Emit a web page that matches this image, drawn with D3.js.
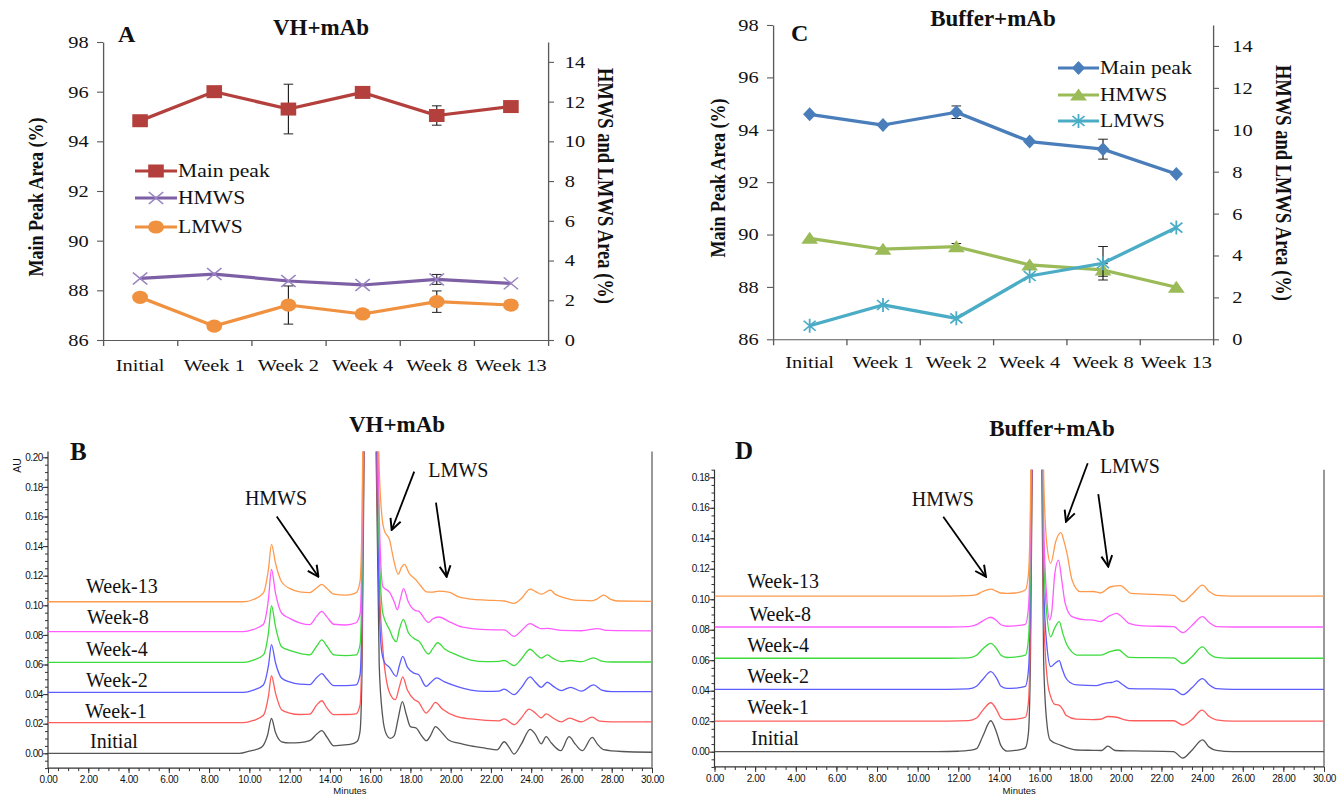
<!DOCTYPE html>
<html>
<head>
<meta charset="utf-8">
<script src="https://cdn.jsdelivr.net/npm/d3@7"></script>
<style>
    body { margin: 0; background: #fff; }
    svg { display: block; font-family: "Liberation Serif", "Times New Roman", serif; }
</style>
</head>
<body>
<div id="chart"></div>
<script>
/* * * * * * * * * * * * * *
 *      stability data      *
 * * * * * * * * * * * * * */

const weeks = ['Initial', 'Week 1', 'Week 2', 'Week 4', 'Week 8', 'Week 13'];

// VH+mAb (panel A)
const vhMain = [94.83, 96.0, 95.3, 95.97, 95.04, 95.4];
const vhMainErr = [0, 0, 1.0, 0, 0.39, 0];
const vhHmws = [3.1, 3.32, 2.97, 2.77, 3.05, 2.85];
const vhHmwsErr = [0, 0, 0, 0, 0.25, 0];
const vhLmws = [2.15, 0.7, 1.76, 1.31, 1.93, 1.76];
const vhLmwsErr = [0, 0, 0.96, 0, 0.54, 0];

// Buffer+mAb (panel C)
const bufMain = [94.59, 94.18, 94.67, 93.55, 93.26, 92.31];
const bufMainErr = [0, 0, 0.24, 0, 0.38, 0];
const bufHmws = [4.82, 4.3, 4.42, 3.55, 3.31, 2.48];
const bufHmwsErr = [0, 0, 0.15, 0, 0.3, 0];
const bufLmws = [0.65, 1.64, 1.0, 3.02, 3.63, 5.33];
const bufLmwsErr = [0, 0, 0, 0, 0.8, 0];

// chromatograms: [minutes, AU above the trace's own baseline]
const traceNames = ['Initial', 'Week-1', 'Week-2', 'Week-4', 'Week-8', 'Week-13'];

const vhInitial = [[0,0],[9.5,0],[10.0,0.0015],[10.6,0.004],[10.9,0.012],[11.1,0.0235],[11.3,0.014],[11.6,0.0078],[12.0,0.007],[12.5,0.0072],[13.0,0.0085],[13.35,0.013],[13.6,0.0153],[13.85,0.011],[14.2,0.005],[14.6,0.0055],[15.0,0.006],[15.35,0.008],[15.5,0.015],[15.6,0.06],[15.7,0.2],[15.8,0.45],[15.95,0.7],[16.15,0.45],[16.3,0.2],[16.45,0.06],[16.62,0.025],[16.8,0.013],[17.0,0.0101],[17.2,0.012],[17.4,0.024],[17.6,0.0349],[17.8,0.026],[18.0,0.018],[18.3,0.0169],[18.5,0.013],[18.8,0.0085],[19.0,0.012],[19.25,0.018],[19.5,0.015],[19.9,0.009],[20.4,0.0068],[21.0,0.005],[21.75,0.0034],[22.3,0.0023],[22.66,0.0078],[22.9,0.004],[23.15,-0.0005],[23.5,0.006],[23.95,0.0162],[24.2,0.013],[24.5,0.0064],[24.74,0.0112],[25.0,0.007],[25.47,0.0018],[25.88,0.0112],[26.2,0.006],[26.54,0.0018],[27.03,0.0108],[27.3,0.006],[27.6,0.0025],[28.5,0.0012],[30,0.0007]];
const vhWeek1 = [[0,0],[9.7,0],[10.2,0.0015],[10.7,0.005],[10.95,0.018],[11.1,0.0317],[11.3,0.02],[11.6,0.0088],[12.0,0.0065],[12.5,0.0055],[13.0,0.0058],[13.35,0.012],[13.6,0.0148],[13.85,0.01],[14.2,0.0054],[14.8,0.0055],[15.3,0.006],[15.5,0.012],[15.6,0.06],[15.7,0.2],[15.8,0.45],[15.95,0.7],[16.15,0.45],[16.3,0.2],[16.47,0.09],[16.63,0.05],[16.97,0.02],[17.25,0.0155],[17.45,0.024],[17.62,0.031],[17.85,0.022],[18.2,0.0155],[18.4,0.014],[18.78,0.0065],[19.0,0.0095],[19.24,0.0137],[19.6,0.009],[20.27,0.0042],[21.0,0.0025],[21.75,0.0015],[22.4,0.0012],[22.66,0.0025],[23.15,-0.0014],[23.5,0.003],[23.9,0.0092],[24.2,0.0065],[24.5,0.0032],[24.74,0.0059],[25.1,0.003],[25.5,0.0005],[25.9,0.003],[26.5,0.0005],[27.03,0.0037],[27.4,0.001],[28,0.0005],[30,0.0005]];
const vhWeek2 = [[0,0],[9.7,0],[10.2,0.0015],[10.7,0.005],[10.95,0.018],[11.1,0.0322],[11.3,0.02],[11.6,0.0097],[12.0,0.007],[12.5,0.0055],[13.0,0.0052],[13.35,0.01],[13.6,0.0126],[13.85,0.009],[14.2,0.0045],[14.8,0.0045],[15.3,0.005],[15.5,0.012],[15.6,0.06],[15.7,0.2],[15.8,0.45],[15.95,0.7],[16.15,0.45],[16.3,0.2],[16.43,0.07],[16.57,0.028],[16.72,0.02],[16.95,0.017],[17.3,0.0108],[17.45,0.018],[17.62,0.0243],[17.85,0.017],[18.2,0.0128],[18.4,0.012],[18.78,0.004],[19.0,0.0065],[19.3,0.0097],[19.7,0.007],[20.3,0.004],[21.0,0.0015],[21.75,0.0006],[22.4,0.0008],[22.66,0.0022],[23.15,-0.0016],[23.5,0.003],[23.95,0.0104],[24.2,0.007],[24.5,0.0034],[24.8,0.0068],[25.1,0.004],[25.5,0.0012],[25.95,0.0034],[26.5,0.0008],[27.1,0.005],[27.5,0.0015],[28,0.0005],[30,0.0005]];
const vhWeek4 = [[0,0],[9.7,0],[10.2,0.0015],[10.7,0.005],[10.95,0.02],[11.1,0.0382],[11.3,0.024],[11.6,0.0105],[12.0,0.008],[12.5,0.006],[13.0,0.005],[13.35,0.011],[13.6,0.0151],[13.85,0.011],[14.2,0.005],[14.8,0.0045],[15.3,0.005],[15.5,0.012],[15.6,0.06],[15.7,0.2],[15.8,0.45],[15.95,0.7],[16.15,0.45],[16.3,0.2],[16.45,0.08],[16.63,0.033],[16.97,0.0218],[17.15,0.016],[17.3,0.0139],[17.45,0.022],[17.65,0.029],[17.9,0.02],[18.25,0.0155],[18.4,0.0145],[18.9,0.0056],[19.1,0.009],[19.36,0.0132],[19.7,0.009],[20.3,0.005],[21.0,0.0015],[21.75,0.0004],[22.4,0.0006],[22.66,0.0012],[23.15,-0.0023],[23.5,0.002],[23.95,0.0088],[24.2,0.006],[24.5,0.0028],[24.8,0.005],[25.1,0.0025],[25.5,0.0004],[25.95,0.0012],[26.5,0.0004],[27.1,0.003],[27.5,0.0008],[28,0.0002],[30,0.0002]];
const vhWeek8 = [[0,0],[9.7,0],[10.2,0.0015],[10.7,0.005],[10.95,0.022],[11.1,0.042],[11.3,0.026],[11.6,0.0126],[12.0,0.009],[12.5,0.006],[13.0,0.0047],[13.35,0.0105],[13.6,0.0137],[13.85,0.01],[14.2,0.005],[14.8,0.0045],[15.3,0.006],[15.5,0.012],[15.6,0.06],[15.7,0.2],[15.8,0.45],[15.95,0.7],[16.15,0.45],[16.3,0.2],[16.45,0.08],[16.63,0.0306],[16.97,0.0265],[17.2,0.02],[17.35,0.0148],[17.5,0.022],[17.66,0.029],[17.9,0.02],[18.25,0.0142],[18.4,0.0138],[18.9,0.0062],[19.1,0.0085],[19.4,0.0099],[20.0,0.0062],[20.6,0.003],[21.75,0.0013],[22.66,0.0012],[23.15,-0.0032],[23.5,0.0005],[23.95,0.0054],[24.3,0.003],[24.5,0.002],[24.8,0.0022],[25.5,0.0008],[26.5,0.0006],[27.3,0.002],[27.8,0.0008],[30,0.0005]];
const vhWeek13 = [[0,0],[9.7,0],[10.2,0.0015],[10.7,0.006],[10.95,0.022],[11.1,0.0387],[11.3,0.026],[11.6,0.0135],[12.0,0.009],[12.5,0.0067],[13.0,0.0062],[13.35,0.0095],[13.6,0.0117],[13.85,0.009],[14.2,0.0051],[14.8,0.0045],[15.3,0.006],[15.5,0.014],[15.6,0.06],[15.7,0.2],[15.8,0.45],[15.95,0.7],[16.15,0.5],[16.3,0.25],[16.43,0.1],[16.57,0.06],[16.7,0.0484],[16.97,0.0416],[17.14,0.0303],[17.4,0.0186],[17.55,0.023],[17.7,0.0252],[17.95,0.019],[18.25,0.0151],[18.5,0.011],[18.8,0.0067],[19.1,0.0065],[19.4,0.0072],[19.9,0.0065],[20.4,0.0033],[21.0,0.0018],[21.75,0.0011],[22.66,0.0005],[23.15,-0.0011],[23.5,0.002],[23.95,0.0085],[24.2,0.007],[24.5,0.0051],[24.95,0.0078],[25.2,0.005],[25.5,0.0033],[26.0,0.0015],[26.5,0.0009],[27.0,0.0006],[27.3,0.002],[27.6,0.0045],[27.9,0.002],[28.3,0.0005],[30,0.0003]];
const vhOffsets = [0, 0.0207, 0.0412, 0.0615, 0.0822, 0.1024];
const vhLabelMin = [2.09, 1.84, 1.89, 1.89, 1.94, 1.89];
const vhLabelAU = [0.0034, 0.0236, 0.045, 0.0657, 0.0874, 0.1085];

const bufInitial = [[0,0],[11.0,0],[12.0,0.0003],[12.5,0.0008],[12.9,0.002],[13.2,0.01],[13.6,0.0203],[13.9,0.012],[14.1,0.004],[14.4,0.0004],[14.8,0.0008],[15.1,0.0015],[15.3,0.0025],[15.45,0.012],[15.55,0.06],[15.65,0.2],[15.75,0.5],[15.87,0.8],[16.0,0.5],[16.1,0.2],[16.2,0.06],[16.35,0.02],[16.52,0.0077],[17.01,0.0044],[17.83,0.0011],[18.65,0.0009],[19.06,0.0008],[19.36,0.0037],[19.72,0.0008],[20.62,0.0005],[22.59,0],[23.05,-0.0042],[23.5,0.001],[24.02,0.0077],[24.35,0.003],[24.7,0.0009],[25.5,0],[30,0]];
const bufWeek1 = [[0,0],[11.5,0],[12.5,0.0003],[12.9,0.002],[13.2,0.007],[13.6,0.012],[13.9,0.007],[14.1,0.002],[14.3,0.0009],[14.8,0.0012],[15.3,0.0025],[15.45,0.012],[15.55,0.06],[15.65,0.2],[15.75,0.5],[15.87,0.8],[16.0,0.5],[16.1,0.2],[16.2,0.07],[16.4,0.025],[16.55,0.016],[16.75,0.011],[16.95,0.0105],[17.15,0.0075],[17.3,0.0038],[17.8,0.0013],[18.6,0.001],[19.0,0.0012],[19.36,0.003],[19.8,0.0025],[20.2,0.0008],[20.6,0.0002],[22.6,0.0002],[23.05,-0.0026],[23.5,0.001],[24.0,0.0072],[24.35,0.003],[24.7,0.0008],[25.5,0],[30,0]];
const bufWeek2 = [[0,0],[11.5,0],[12.5,0.0003],[12.9,0.002],[13.2,0.0065],[13.6,0.0116],[13.9,0.007],[14.1,0.002],[14.4,0.0006],[14.8,0.0008],[15.3,0.002],[15.45,0.012],[15.55,0.06],[15.65,0.2],[15.75,0.5],[15.87,0.8],[16.0,0.5],[16.1,0.2],[16.2,0.07],[16.35,0.03],[16.55,0.0149],[16.75,0.017],[16.97,0.0188],[17.1,0.014],[17.26,0.0083],[17.5,0.0045],[17.83,0.0029],[18.8,0.0025],[19.3,0.0043],[19.55,0.0045],[19.8,0.0055],[20.1,0.003],[20.4,0.0005],[22.6,0],[23.05,-0.0035],[23.5,0.001],[24.02,0.007],[24.35,0.003],[24.7,0.0005],[25.5,0],[30,0]];
const bufWeek4 = [[0,0],[11.5,0],[12.5,0.0003],[12.9,0.002],[13.2,0.006],[13.6,0.0098],[13.9,0.006],[14.1,0.002],[14.4,0.0005],[14.8,0.0008],[15.3,0.002],[15.45,0.012],[15.55,0.06],[15.65,0.2],[15.75,0.5],[15.87,0.8],[16.0,0.5],[16.1,0.2],[16.2,0.07],[16.35,0.03],[16.55,0.0141],[16.75,0.02],[16.97,0.024],[17.15,0.016],[17.35,0.0087],[17.6,0.004],[17.83,0.0021],[19.0,0.0021],[19.5,0.0045],[19.9,0.0054],[20.15,0.003],[20.4,0.0006],[22.6,0.0003],[23.05,-0.0035],[23.5,0.001],[24.02,0.0074],[24.35,0.003],[24.7,0.0006],[25.5,0],[30,0]];
const bufWeek8 = [[0,0],[11.5,0],[12.5,0.0003],[12.9,0.0015],[13.2,0.004],[13.6,0.0064],[13.9,0.004],[14.1,0.0015],[14.4,0.0005],[14.8,0.0008],[15.3,0.0017],[15.45,0.012],[15.55,0.06],[15.65,0.2],[15.75,0.5],[15.87,0.8],[16.0,0.5],[16.1,0.2],[16.2,0.07],[16.35,0.02],[16.5,0.0046],[16.6,0.01],[16.75,0.035],[16.93,0.0439],[17.1,0.03],[17.26,0.0155],[17.6,0.0068],[18.2,0.0048],[18.65,0.0045],[19.0,0.0035],[19.4,0.007],[19.8,0.009],[20.1,0.006],[20.4,0.0024],[21.1,0.0007],[22.6,0.0003],[23.05,-0.0037],[23.5,0.001],[24.02,0.0068],[24.35,0.003],[24.7,0.0003],[25.5,0],[30,0]];
const bufWeek13 = [[0,0],[11.5,0],[12.5,0.0003],[12.9,0.001],[13.2,0.003],[13.6,0.0046],[13.9,0.003],[14.1,0.002],[14.4,0.0017],[14.8,0.002],[15.3,0.004],[15.45,0.014],[15.55,0.06],[15.65,0.2],[15.75,0.5],[15.87,0.8],[16.0,0.5],[16.1,0.2],[16.2,0.08],[16.35,0.035],[16.55,0.0215],[16.8,0.036],[17.05,0.0416],[17.2,0.036],[17.35,0.028],[17.6,0.0105],[18.0,0.0029],[18.65,0.003],[19.0,0.002],[19.5,0.0061],[20.0,0.0068],[20.2,0.005],[20.5,0.0017],[22.6,0.0005],[23.05,-0.0037],[23.5,0.001],[24.02,0.0072],[24.35,0.003],[24.7,0.0005],[25.5,0],[30,0]];
const bufOffsets = [0, 0.0201, 0.0409, 0.0613, 0.0818, 0.1021];
const bufLabelMin = [1.8, 1.61, 1.61, 1.61, 1.71, 1.61];
const bufLabelAU = [0.0044, 0.0245, 0.0453, 0.0652, 0.0859, 0.1072];

// annotations in data units: [fromMin, fromAU, toMin, toAU]
const vhArrows = [[11.36, 0.160, 13.43, 0.1193], [18.19, 0.1903, 17.07, 0.1509], [19.27, 0.1693, 19.8, 0.1193]];
const vhNotes = [['HMWS', 9.78, 0.168], ['LMWS', 18.89, 0.1867]];
const bufArrows = [[11.26, 0.1541, 13.36, 0.1148], [18.37, 0.1892, 17.3, 0.1509], [18.89, 0.169, 19.38, 0.1214]];
const bufNotes = [['HMWS', 9.71, 0.1612], ['LMWS', 18.97, 0.1828]];

const traceColors = ['#555555', '#ff5c5c', '#5c5cff', '#3cdc3c', '#ff5cff', '#ff9a4c'];
const axisColor = '#5a5a5a';

/* * * * * * * * * * * * * *
 *        LinePanel         *
 * * * * * * * * * * * * * */

class LinePanel {
    constructor(svg, cfg) {
        this.svg = svg;
        this.cfg = cfg;
        this.initVis();
    }

    initVis() {
        let vis = this;
        let c = vis.cfg;

        vis.innerW = (c.x1 - c.x0) / c.sx;
        // the source figure is stretched sideways, so the whole plot is too
        vis.g = vis.svg.append('g').attr('transform', `translate(${c.x0},0) scale(${c.sx},1)`);

        vis.x = d3.scaleBand().domain(weeks).range([0, vis.innerW]);
        vis.yL = d3.scaleLinear().domain([86, 98]).range([c.yBot, c.yTop]);
        vis.yR = d3.scaleLinear().domain([0, 15]).range([c.yBot, c.yTop]);

        let gl = vis.g.append('g')
            .call(d3.axisLeft(vis.yL).tickValues(d3.range(86, 99, 2)).tickSize(5).tickSizeOuter(0).tickPadding(7));
        let gr = vis.g.append('g')
            .attr('transform', `translate(${vis.innerW},0)`)
            .call(d3.axisRight(vis.yR).tickValues(d3.range(0, 15, 2)).tickSize(5).tickSizeOuter(0).tickPadding(c.rightPad));

        let idx = d3.scaleLinear().domain([0, weeks.length]).range([0, vis.innerW]);
        let gb = vis.g.append('g')
            .attr('transform', `translate(0,${c.yBot})`)
            .call(d3.axisBottom(idx).tickValues(d3.range(weeks.length + 1)).tickFormat('').tickSize(6).tickSizeOuter(0));
        let gx = vis.g.append('g')
            .attr('transform', `translate(0,${c.yBot})`)
            .call(d3.axisBottom(vis.x).tickSize(0).tickPadding(c.labelPad));
        gx.select('.domain').remove();

        [gl, gr, gb, gx].forEach((a) => {
            a.selectAll('path, line').attr('stroke', axisColor).attr('stroke-width', 1.1);
            a.selectAll('text').attr('font-size', 17).attr('font-family', '"Liberation Serif", serif').attr('fill', '#111');
        });

        // axis titles
        vis.g.append('text')
            .attr('transform', `translate(${(c.leftTitleX - c.x0) / c.sx},${c.leftTitleY}) rotate(-90)`)
            .attr('text-anchor', 'middle')
            .attr('dy', '0.35em')
            .attr('font-size', 18)
            .attr('font-weight', 'bold')
            .attr('fill', '#111')
            .text('Main Peak Area (%)');

        vis.g.append('text')
            .attr('transform', `translate(${(c.rightTitleX - c.x0) / c.sx},${c.rightTitleY}) rotate(90)`)
            .attr('text-anchor', 'middle')
            .attr('dy', '0.35em')
            .attr('font-size', 18.5)
            .attr('font-weight', 'bold')
            .attr('fill', '#111')
            .text('HMWS and LMWS Area (%)');

        vis.line = d3.line().x((d) => vis.x(d.cat) + vis.x.bandwidth() / 2).y((d) => d.y);

        c.series.forEach((s) => vis.drawSeries(s));
        vis.drawLegend();
    }

    drawSeries(s) {
        let vis = this;
        let scale = s.axis === 'L' ? vis.yL : vis.yR;
        let pts = weeks.map((w, i) => ({ cat: w, v: s.values[i], e: s.err[i], y: scale(s.values[i]) }));

        // error bars
        let eb = vis.g.append('g');
        pts.filter((d) => d.e > 0).forEach((d) => {
            let cx = vis.x(d.cat) + vis.x.bandwidth() / 2;
            let top = scale(d.v + d.e);
            let bot = scale(d.v - d.e);
            eb.append('line').attr('x1', cx).attr('x2', cx).attr('y1', top).attr('y2', bot);
            eb.append('line').attr('x1', cx - 4).attr('x2', cx + 4).attr('y1', top).attr('y2', top);
            eb.append('line').attr('x1', cx - 4).attr('x2', cx + 4).attr('y1', bot).attr('y2', bot);
        });
        eb.selectAll('line').attr('stroke', '#222').attr('stroke-width', 1);

        vis.g.append('path')
            .datum(pts)
            .attr('d', vis.line)
            .attr('fill', 'none')
            .attr('stroke', s.color)
            .attr('stroke-width', 3.2)
            .attr('stroke-linejoin', 'round');

        pts.forEach((d) => {
            let m = vis.g.append('g').attr('transform', `translate(${vis.x(d.cat) + vis.x.bandwidth() / 2},${d.y})`);
            drawMarker(m, s.marker, s.markerColor || s.color);
        });
    }

    drawLegend() {
        let vis = this;
        let c = vis.cfg;
        let L = c.legend;
        let toIn = (X) => (X - c.x0) / c.sx;

        c.series.forEach((s, i) => {
            let y = L.ys[i];
            vis.g.append('line')
                .attr('x1', toIn(L.lx1)).attr('x2', toIn(L.lx2))
                .attr('y1', y).attr('y2', y)
                .attr('stroke', s.color).attr('stroke-width', 3.2);
            let m = vis.g.append('g').attr('transform', `translate(${(toIn(L.lx1) + toIn(L.lx2)) / 2},${y})`);
            drawMarker(m, s.marker, s.markerColor || s.color);
            vis.g.append('text')
                .attr('x', toIn(L.tx)).attr('y', y)
                .attr('dy', '0.35em')
                .attr('font-size', 18)
                .attr('fill', '#111')
                .text(s.name);
        });
    }
}

function drawMarker(g, type, color) {
    if (type === 'square') {
        g.append('rect').attr('x', -6.5).attr('y', -6.5).attr('width', 13).attr('height', 13).attr('fill', color);
    } else if (type === 'circle') {
        g.append('circle').attr('r', 6.6).attr('fill', color);
    } else if (type === 'cross') {
        g.append('path').attr('d', 'M-6,-6L6,6M-6,6L6,-6').attr('stroke', color).attr('stroke-width', 1.4).attr('fill', 'none');
    } else if (type === 'diamond') {
        g.append('path').attr('d', 'M0,-7L5.5,0L0,7L-5.5,0Z').attr('fill', color);
    } else if (type === 'triangle') {
        g.append('path').attr('d', 'M0,-6.5L7,5.5L-7,5.5Z').attr('fill', color);
    } else if (type === 'star') {
        g.append('path').attr('d', 'M-5,-5L5,5M-5,5L5,-5M0,-7L0,7').attr('stroke', color).attr('stroke-width', 1.5).attr('fill', 'none');
    }
}

/* * * * * * * * * * * * * *
 *       ChromPanel         *
 * * * * * * * * * * * * * */

class ChromPanel {
    constructor(svg, cfg) {
        this.svg = svg;
        this.cfg = cfg;
        this.initVis();
    }

    initVis() {
        let vis = this;
        let c = vis.cfg;

        vis.x = d3.scaleLinear().domain([0, 30]).range([c.x0, c.x1]);
        vis.y = d3.scaleLinear().domain([0, c.refAU]).range([c.y0, c.yRef]);

        let yTopPx = vis.y(c.topAU);
        let yBotPx = vis.y(-0.01);

        // clip so the main peak runs off the top
        vis.svg.append('clipPath').attr('id', c.id + '-clip')
            .append('rect')
            .attr('x', c.x0).attr('y', yTopPx)
            .attr('width', c.x1 - c.x0).attr('height', yBotPx - yTopPx);

        let g = vis.svg.append('g');

        // y axis: minor every 0.005, labelled every 0.02
        g.append('g')
            .attr('transform', `translate(${c.x0},0)`)
            .call(d3.axisLeft(vis.y)
                .tickValues(d3.range(-2, Math.floor(c.topAU / 0.005) + 1).map((i) => i * 0.005))
                .tickFormat('').tickSize(3).tickSizeOuter(0))
            .select('.domain').remove();
        g.append('g')
            .attr('transform', `translate(${c.x0},0)`)
            .call(d3.axisLeft(vis.y)
                .tickValues(d3.range(0, Math.floor(c.topAU / 0.02) + 1).map((i) => i * 0.02))
                .tickFormat(d3.format('.2f')).tickSize(5).tickPadding(0).tickSizeOuter(0))
            .select('.domain').remove();

        // x axis: minor every 0.5 min, labelled every 2
        g.append('g')
            .attr('transform', `translate(0,${yBotPx})`)
            .call(d3.axisBottom(vis.x).tickValues(d3.range(0, 61).map((i) => i * 0.5)).tickFormat('').tickSize(3).tickSizeOuter(0))
            .select('.domain').remove();
        g.append('g')
            .attr('transform', `translate(0,${yBotPx})`)
            .call(d3.axisBottom(vis.x).tickValues(d3.range(0, 16).map((i) => i * 2)).tickFormat(d3.format('.2f')).tickSize(5).tickPadding(3).tickSizeOuter(0))
            .select('.domain').remove();

        g.selectAll('line').attr('stroke', '#333').attr('stroke-width', 1);
        g.selectAll('text')
            .attr('font-size', 10)
            .attr('font-family', '"Liberation Sans Narrow", "Liberation Sans", Arial, sans-serif')
            .attr('letter-spacing', -0.4)
            .attr('fill', '#111');

        // frame: left axis, bottom axis, right edge
        let frame = vis.svg.append('g').attr('stroke', '#333').attr('stroke-width', 1.2);
        frame.append('line').attr('x1', c.x0).attr('x2', c.x0).attr('y1', yTopPx).attr('y2', yBotPx);
        frame.append('line').attr('x1', c.x0).attr('x2', c.x1).attr('y1', yBotPx).attr('y2', yBotPx);
        frame.append('line').attr('x1', c.x1).attr('x2', c.x1).attr('y1', yTopPx).attr('y2', yBotPx).attr('stroke', '#555');

        if (c.showAU) {
            vis.svg.append('text')
                .attr('transform', `translate(${c.x0 - 31},${yTopPx + 14}) rotate(-90)`)
                .attr('text-anchor', 'middle')
                .attr('dy', '0.35em')
                .attr('font-size', 10.5)
                .attr('font-family', '"Liberation Sans", Arial, sans-serif')
                .attr('fill', '#111')
                .text('AU');
        }

        vis.svg.append('text')
            .attr('x', (c.x0 + c.x1) / 2).attr('y', 794)
            .attr('text-anchor', 'middle')
            .attr('font-size', 9.5)
            .attr('font-family', '"Liberation Sans", Arial, sans-serif')
            .attr('fill', '#111')
            .text('Minutes');

        // traces
        let line = d3.line()
            .x((d) => vis.x(d[0]))
            .y((d) => vis.y(d[1]))
            .curve(d3.curveMonotoneX);

        let tg = vis.svg.append('g').attr('clip-path', `url(#${c.id}-clip)`);
        c.traces.forEach((t, i) => {
            tg.append('path')
                .datum(t.map((p) => [p[0], p[1] + c.offsets[i]]))
                .attr('d', line)
                .attr('fill', 'none')
                .attr('stroke', traceColors[i])
                .attr('stroke-width', 1.3);
        });

        // trace labels
        traceNames.forEach((n, i) => {
            vis.svg.append('text')
                .attr('x', vis.x(c.labelMin[i]))
                .attr('y', vis.y(c.labelAU[i]))
                .attr('font-size', 20)
                .attr('fill', '#111')
                .text(n);
        });

        // annotations
        c.notes.forEach((n) => {
            vis.svg.append('text')
                .attr('x', vis.x(n[1])).attr('y', vis.y(n[2]))
                .attr('font-size', 20)
                .attr('fill', '#111')
                .text(n[0]);
        });
        c.arrows.forEach((a) => {
            vis.svg.append('line')
                .attr('x1', vis.x(a[0])).attr('y1', vis.y(a[1]))
                .attr('x2', vis.x(a[2])).attr('y2', vis.y(a[3]))
                .attr('stroke', '#000')
                .attr('stroke-width', 1.8)
                .attr('marker-end', 'url(#arrowhead)');
        });
    }
}

/* * * * * * * * * * * * * *
 *          page            *
 * * * * * * * * * * * * * */

const svg = d3.select('#chart').append('svg').attr('width', 1337).attr('height', 796);
svg.append('rect').attr('width', 1337).attr('height', 796).attr('fill', '#fff');

svg.append('defs').append('marker')
    .attr('id', 'arrowhead')
    .attr('viewBox', '0 0 12 12')
    .attr('refX', 11).attr('refY', 6)
    .attr('markerWidth', 13).attr('markerHeight', 13)
    .attr('markerUnits', 'userSpaceOnUse')
    .attr('orient', 'auto')
    .append('path')
    .attr('d', 'M1,1L11,6L1,11')
    .attr('fill', 'none')
    .attr('stroke', '#000')
    .attr('stroke-width', 1.8);

new LinePanel(svg, {
    x0: 103, x1: 548, yTop: 42, yBot: 340, sx: 1.2, labelPad: 19, rightPad: 9,
    leftTitleX: 35, leftTitleY: 197,
    rightTitleX: 606, rightTitleY: 186,
    legend: { lx1: 135, lx2: 177, tx: 178, ys: [171, 198, 227] },
    series: [
        { name: 'Main peak', values: vhMain, err: vhMainErr, axis: 'L', color: '#B3403D', marker: 'square' },
        { name: 'HMWS', values: vhHmws, err: vhHmwsErr, axis: 'R', color: '#7D5FA5', markerColor: '#9A84C2', marker: 'cross' },
        { name: 'LMWS', values: vhLmws, err: vhLmwsErr, axis: 'R', color: '#F0913F', marker: 'circle' },
    ],
});

new LinePanel(svg, {
    x0: 773, x1: 1213, yTop: 25, yBot: 339.3, sx: 1.2, labelPad: 17, rightPad: 11,
    leftTitleX: 717, leftTitleY: 178,
    rightTitleX: 1284, rightTitleY: 183,
    legend: { lx1: 1058, lx2: 1099, tx: 1100, ys: [68, 95, 121] },
    series: [
        { name: 'Main peak', values: bufMain, err: bufMainErr, axis: 'L', color: '#4A7EBB', marker: 'diamond' },
        { name: 'HMWS', values: bufHmws, err: bufHmwsErr, axis: 'R', color: '#9BBB59', marker: 'triangle' },
        { name: 'LMWS', values: bufLmws, err: bufLmwsErr, axis: 'R', color: '#4BACC6', marker: 'star' },
    ],
});

new ChromPanel(svg, {
    id: 'vh', x0: 48, x1: 652, y0: 753.3, yRef: 457.3, refAU: 0.2, topAU: 0.204, showAU: true,
    traces: [vhInitial, vhWeek1, vhWeek2, vhWeek4, vhWeek8, vhWeek13],
    offsets: vhOffsets, labelMin: vhLabelMin, labelAU: vhLabelAU,
    notes: vhNotes, arrows: vhArrows,
});

new ChromPanel(svg, {
    id: 'buf', x0: 714.5, x1: 1324, y0: 751.7, yRef: 477.3, refAU: 0.18, topAU: 0.185, showAU: false,
    traces: [bufInitial, bufWeek1, bufWeek2, bufWeek4, bufWeek8, bufWeek13],
    offsets: bufOffsets, labelMin: bufLabelMin, labelAU: bufLabelAU,
    notes: bufNotes, arrows: bufArrows,
});

// panel letters and titles
const heads = [
    ['A', 118, 42, 24, 'start'], ['VH+mAb', 321, 35, 23, 'middle'],
    ['C', 791, 41, 24, 'start'], ['Buffer+mAb', 993, 26, 23, 'middle'],
    ['B', 70, 460, 25, 'start'], ['VH+mAb', 397, 432, 23, 'middle'],
    ['D', 735, 459, 25, 'start'], ['Buffer+mAb', 1052, 436, 23, 'middle'],
];
heads.forEach((h) => {
    svg.append('text')
        .attr('x', h[1]).attr('y', h[2])
        .attr('text-anchor', h[4])
        .attr('font-size', h[3])
        .attr('font-weight', 'bold')
        .attr('fill', '#111')
        .text(h[0]);
});
</script>
</body>
</html>
